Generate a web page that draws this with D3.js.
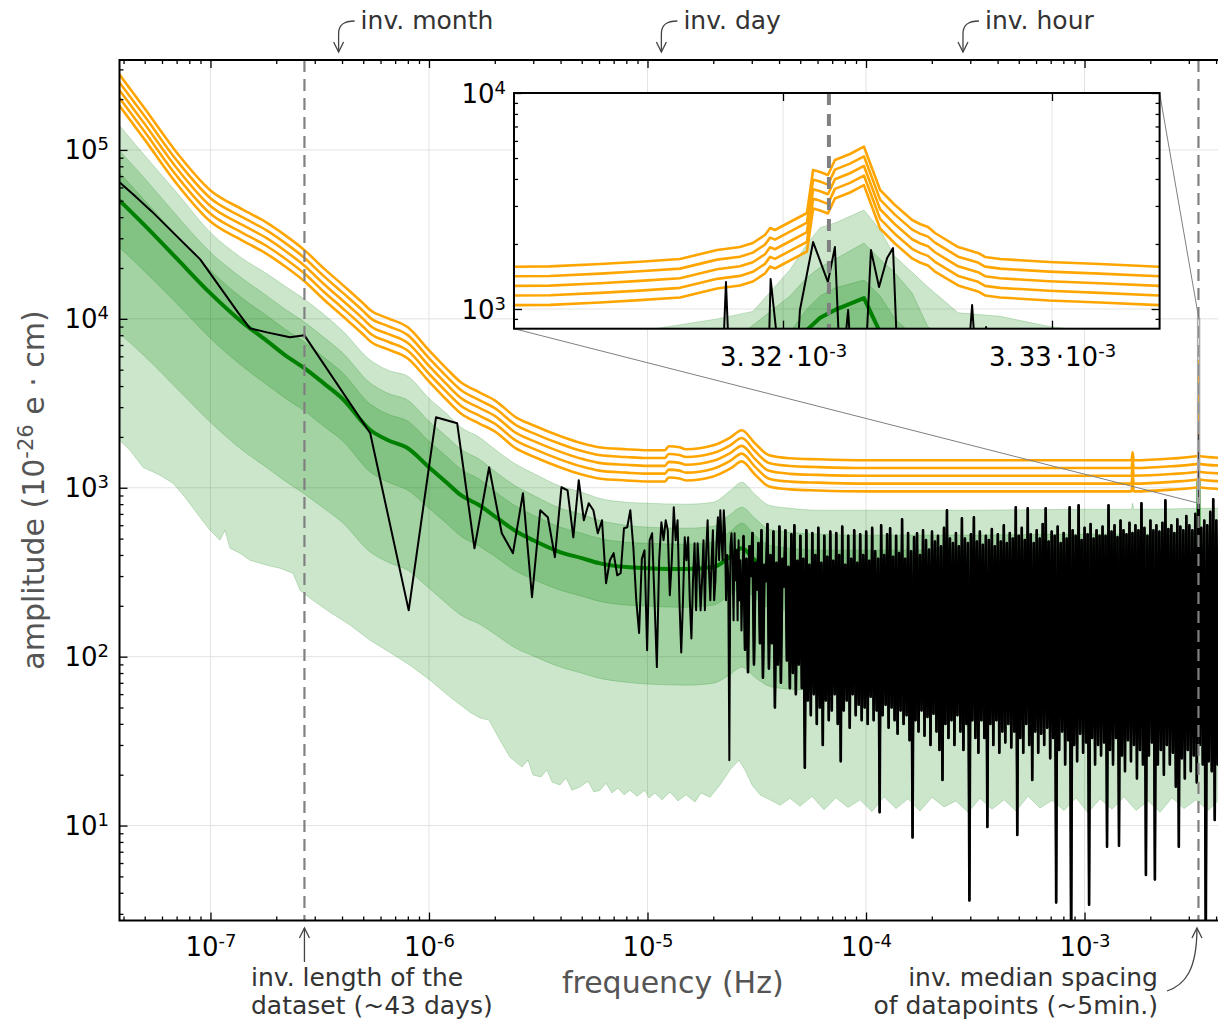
<!DOCTYPE html>
<html>
<head>
<meta charset="utf-8">
<script src="https://cdn.jsdelivr.net/npm/d3@7/dist/d3.min.js"></script>
<style>
html,body{margin:0;padding:0;background:#fff;}
svg{display:block;}
</style>
</head>
<body>
<svg id="chart" width="1218" height="1020"></svg>
<script>
// ================= DATA =================
const DATASET_DAYS = 43;          // inv. length of the dataset
const MEDIAN_SPACING_S = 301.05;  // inv. median spacing of datapoints (~5 min)
const MONTH_DAYS = 30, DAY_S = 86400, HOUR_S = 3600;

const xMajorTicks = [1e-7, 1e-6, 1e-5, 1e-4, 1e-3];
const xTickExp = ["-7", "-6", "-5", "-4", "-3"];
const yMajorTicks = [1e1, 1e2, 1e3, 1e4, 1e5];
const yTickExp = ["1", "2", "3", "4", "5"];
const insetXTicks = [3.32e-3, 3.33e-3];
const insetXTickMant = ["3.", "3."];
const insetXTickFrac = ["32", "33"];
const insetYTicks = [1e3, 1e4];
const insetYTickExp = ["3", "4"];

// ---- orange curves (5 levels) ----
const orangeFreq = [3.83e-8,5e-8,7e-8,1e-7,1.4e-7,1.8e-7,2.2e-7,2.7e-7,3.3e-7,4e-7,
5e-7,5.4e-7,6.5e-7,8e-7,1e-6,1.2e-6,1.4e-6,1.7e-6,2e-6,2.5e-6,
3e-6,4e-6,5e-6,6e-6,8e-6,1e-5,1.2e-5,1.25e-5,1.4e-5,1.5e-5,
2e-5,2.4e-5,2.7e-5,3.1e-5,3.6e-5,4.5e-5,6e-5,1e-4,2e-4,5e-4,
1e-3,1.64e-3,1.66e-3,1.68e-3,2.5e-3,3.3e-3,
3.31004e-3,3.31134e-3,3.31320e-3,3.31468e-3,3.31617e-3,3.31755e-3,3.31840e-3,3.31888e-3,3.31933e-3,3.31952e-3,
3.31970e-3,3.32026e-3,3.32089e-3,3.32112e-3,3.32138e-3,3.32167e-3,3.32193e-3,3.32249e-3,3.32301e-3,3.32361e-3,
3.32416e-3,3.32480e-3,3.32509e-3,3.32539e-3,3.32565e-3,3.32651e-3,3.32725e-3,3.32751e-3,3.32807e-3,3.32989e-3,
3.33178e-3,3.33398e-3,
3.345e-3,4.3e-3];
const orange1 = [279700,176000,96650,57600,44450,37240,31200,25430,19900,16000,
12350,11230,10070,8907,6510,5095,4210,3674,3295,2613,
2343,2017,1834,1736,1690,1667,1667,1760,1736,1690,
1784,1990,2189,1834,1557,1495,1474,1455,1455,1455,
1455,1455,1622,1455,1490,1540,
1570,1575,1616,1656,1704,1876,1936,2021,2201,2371,
2321,2528,2783,4400,4308,4173,4895,5220,5642,3555,
3030,2583,2475,2397,2248,1936,1817,1741,1704,1651,
1616,1570,
1540,1500];
const orange2 = [251500,158300,86900,51800,39970,33490,28060,22870,17900,14390,
11110,10100,9060,8010,5850,4580,3790,3300,2960,2350,
2107,1814,1649,1561,1520,1499,1499,1583,1561,1520,
1604,1790,1969,1649,1400,1344,1326,1308,1308,1308,
1308,1308,1459,1308,1340,1385,
1417,1421,1458,1495,1538,1693,1747,1824,1986,2140,
2095,2282,2512,3971,3888,3766,4418,4711,5092,3208,
2735,2331,2234,2163,2029,1747,1640,1571,1538,1490,
1458,1417,
1385,1349];
const orange3 = [226200,142300,78170,46580,35950,30120,25230,20570,16090,12940,
9990,9080,8140,7200,5260,4120,3400,2970,2665,2113,
1895,1631,1483,1404,1367,1348,1348,1423,1404,1367,
1443,1609,1770,1483,1259,1209,1192,1177,1177,1177,
1177,1177,1312,1177,1205,1245,
1279,1283,1316,1349,1388,1528,1577,1646,1793,1931,
1891,2059,2267,3584,3509,3399,3987,4252,4596,2896,
2468,2104,2016,1952,1831,1577,1480,1418,1388,1345,
1316,1279,
1245,1213];
const orange4 = [203400,128000,70290,41890,32330,27080,22690,18490,14470,11640,
8980,8170,7320,6480,4730,3710,3060,2670,2395,1900,
1704,1467,1334,1263,1229,1212,1212,1280,1263,1229,
1297,1447,1592,1334,1132,1087,1072,1058,1058,1058,
1058,1058,1180,1058,1084,1120,
1154,1158,1188,1217,1253,1379,1423,1486,1618,1743,
1706,1858,2046,3235,3167,3068,3598,3837,4148,2613,
2227,1899,1819,1762,1653,1423,1336,1280,1253,1214,
1188,1154,
1120,1091];
const orange5 = [182900,115100,63210,37670,29070,24360,20410,16630,13020,10460,
8080,7340,6590,5830,4260,3330,2750,2400,2155,1709,
1532,1319,1199,1135,1105,1090,1090,1151,1135,1105,
1167,1301,1432,1199,1018,978,964,952,952,952,
952,952,1061,952,975,1007,
1042,1045,1072,1099,1131,1245,1285,1341,1460,1573,
1540,1677,1846,2919,2858,2769,3248,3463,3743,2359,
2010,1714,1642,1590,1491,1285,1206,1155,1131,1095,
1072,1042,
1007,981];

// ---- green bands (simulated quantiles) ----
const bandFreq = [3.83e-8,5e-8,7e-8,1e-7,1.4e-7,1.8e-7,2.2e-7,2.7e-7,3.3e-7,4e-7,
5.4e-7,6.5e-7,8e-7,1e-6,1.2e-6,1.4e-6,1.7e-6,2e-6,2.5e-6,3e-6,
4e-6,5e-6,6e-6,8e-6,1e-5,1.5e-5,2e-5,2.4e-5,2.7e-5,3.1e-5,
3.6e-5,4.5e-5,6e-5,1e-4,3e-4,1e-3,1.64e-3,1.66e-3,1.68e-3,3.3e-3,
3.31134e-3,3.31468e-3,3.31755e-3,3.31888e-3,3.32026e-3,3.32089e-3,3.32138e-3,3.32193e-3,3.32301e-3,3.32361e-3,
3.32416e-3,3.32480e-3,3.32539e-3,3.32651e-3,3.32807e-3,3.32989e-3,3.33178e-3,
3.345e-3,4.3e-3];
const bandLightUpper = [139600,92790,56040,32500,22800,18590,15570,13040,10630,8550,
5682,4960,4569,3385,2760,2280,1990,1690,1377,1218,
1021,941,867,821,810,799,821,966,1078,915,
788,756,736,736,736,746,746,810,746,756,
760,790,900,975,1520,2000,2380,2500,2870,2320,
1750,1480,1264,960,925,830,780,
756,756];
const bandMidUpper = [99310,67810,40970,24750,17360,13770,11380,9535,7773,6336,
4152,3624,3295,2475,2017,1690,1474,1252,1021,903,
756,697,642,600,584,576,592,697,767,660,
568,545,531,524,524,531,531,553,531,538,
545,560,640,840,1150,1400,1560,1700,2020,1700,
1470,1186,825,700,640,580,550,
538,538];
const bandDarkUpper = [73600,50260,31200,19360,13220,10490,8667,7260,5918,4826,
3119,2722,2475,1884,1536,1287,1123,953,777,688,
584,538,502,476,469,463,476,553,617,524,
457,438,427,427,427,433,433,444,433,438,
440,450,500,600,780,1000,1150,1250,1362,1150,
900,760,650,540,500,460,445,
438,438];
const bandMedian = [50260,35750,22800,14150,9535,7460,6081,5095,4152,3385,
2189,1910,1713,1322,1078,903,788,678,553,489,
415,383,358,339,334,330,339,393,438,372,
325,312,303,303,303,308,308,316,308,312,
315,320,360,430,600,800,910,990,1124,780,
620,540,470,400,360,330,318,
312,312];
const bandDarkLower = [26490,19100,12350,7665,5236,4097,3385,2836,2311,1910,
1235,1078,966,756,617,516,451,393,321,287,
247,228,213,202,199,196,202,234,258,222,
194,186,181,181,181,183,183,188,183,186,
188,190,215,260,340,480,540,600,680,480,
385,325,285,240,215,198,190,
186,186];
const bandMidLower = [8208,6000,3879,2441,1667,1322,1093,915,756,625,
415,362,325,254,207,176,156,136,112,101,
86.7,79.9,74.6,70.6,68.8,67.8,69.7,78.8,86.7,75.6,
66.9,64.2,63.3,62.5,62.5,63.3,63.3,65.1,63.3,64.2,
65,66,75,90,118,168,190,208,235,165,
130,113,99,84,76,69,66,
64.2,64.2];
// light band lower edge (jagged)
const lightLowerFreq = [3.83e-8,4.281e-8,4.911e-8,5.873e-8,6.736e-8,7.643e-8,8.955e-8,9.947e-8,1.105e-7,1.165e-7,
1.228e-7,1.365e-7,1.516e-7,1.814e-7,2.080e-7,2.385e-7,2.515e-7,2.568e-7,2.853e-7,3.523e-7,
4.348e-7,5.370e-7,6.629e-7,8.185e-7,1.011e-6,1.248e-6,1.540e-6,1.712e-6,1.882e-6,2.113e-6,
2.348e-6,2.664e-6,2.838e-6,2.992e-6,3.254e-6,3.467e-6,3.655e-6,3.977e-6,4.236e-6,4.512e-6,
4.909e-6,5.341e-6,5.689e-6,6.061e-6,6.456e-6,6.877e-6,7.328e-6,7.805e-6,8.316e-6,8.953e-6,
9.741e-6,1.016e-5,1.082e-5,1.165e-5,1.268e-5,1.379e-5,1.500e-5,1.650e-5,1.757e-5,1.932e-5,
2.147e-5,2.385e-5,2.623e-5,2.794e-5,3.008e-5,3.272e-5,3.636e-5,4.040e-5,4.489e-5];
const lightLower = [1910,1667,1322,1186,1063,879,669,561,489,561,
438,410,372,348,334,312,265,247,222,183,
154,125,106,89,72.6,57.6,46.9,43.3,42.1,32.0,
25.4,22.2,24.4,19.9,19.4,21.3,18.1,17.4,19.1,16.2,
16.9,18.3,15.8,16.2,17.8,15.6,16.7,15.2,16.2,14.9,
16.2,14.5,15.6,14.2,15.8,14.0,15.2,13.8,15.6,14.7,
17.4,21.3,24.4,21.3,17.4,15.2,14.2,13.2,14.5];
const lightLowerHigh = [13.0,14.9,12.4,14.6,12.8,14.2,12.1,14.8,12.6,14.4,12.2,14.7,12.9,14.0,12.0,14.5,12.5,14.2,
12.2,14.9,12.7,14.1,12.3,14.6,11.9,14.4,12.5,14.8,12.3,14.0,12.0,14.6,12.6,14.2,12.3,14.4];
const lightLowerHighRange = [4.987e-5, 4.17e-3];

// ---- measured amplitude spectrum (black) ----
const blackLowFreq = [3.845e-8,4.487e-8,5.384e-8,6.73e-8,8.973e-8,1.346e-7,1.516e-7,1.814e-7,2.311e-7];
const blackLowAmp  = [64230,53800,43260,32500,22500,10780,8785,8318,7773];
// harmonics k = 1..100 of 1/(dataset length)
const blackHarmAmp = [7988,2101,188,2613,2408,438,1322,538,410,928,
225,736,669,388,1007,966,509,1108,642,810,
736,538,642,272,372,410,303,312,576,584,
736,444,216,138,380,426,109,489,538,216,
86.7,372,625,489,642,561,231,372,767,489,
642,216,106,216,509,372,509,216,128,283,
469,188,469,325,188,283,489,188,426,642,
325,216,372,561,216,283,489,669,372,736,
489,372,736,561,216,400,300,24.4,450,538,
372,164,538,283,426,164,489,216,372,143];
// dense high-frequency part, log-spaced from 2.75e-5 to 4.2e-3 Hz
const blackDenseRange = [2.75e-5, 4.2e-3];
const blackDenseAmp = [
520,110,380,81,450,300,540,90,360,250,470,120,560,75,350,280,610,85,400,120,
550,50,360,90,590,70,380,260,560,95,340,65,530,80,600,60,370,90,520,65,
380,22,560,55,350,45,540,60,400,40,580,50,360,30,520,55,390,42,550,48,
370,60,540,40,400,24,590,48,350,55,520,38,380,60,560,45,360,52,530,42,
400,50,550,40,370,58,580,42,420,48,380,12,600,45,400,52,530,38,576,50,
390,42,520,35,410,48,651,40,380,45,540,32,420,8.5,510,42,538,36,400,48,
560,34,490,44,430,30,550,46,480,36,520,28,450,18.6,580,40,736,33,500,42,
470,30,540,45,450,36,660,28,500,40,470,3.6,530,42,669,33,480,27,550,42,
460,33,520,9.8,490,40,570,30,450,42,530,27,480,36,600,31,470,40,540,29,
500,36,767,8.8,520,33,580,27,490,40,756,30,530,18.6,470,36,560,27,500,35,
610,30,756,38,480,25,550,33,520,3.5,590,28,470,36,540,23,500,32,767,1.8,
560,30,520,24,788,35,490,27,580,31,530,3.4,610,33,500,23,560,30,520,26,
590,31,520,7.5,788,28,550,23,600,33,510,7.6,640,26,560,21,530,32,620,24,
540,30,600,19,560,28,810,23,580,5.1,520,26,640,31,560,4.8,600,23,550,28,
620,20,843,30,570,23,600,27,540,17,650,7.5,590,25,560,19,680,28,600,21,
560,26,700,18,620,30,580,23,640,1.8,600,24,720,21,855,10.8,640,23,660,27];
// fine sampling around the 1/(median spacing) peak (inset)
const blackInsetFreq = [3.31000e-3,3.31171e-3,3.31468e-3,3.31691e-3,3.31777e-3,3.31788e-3,3.31799e-3,3.31915e-3,3.31948e-3,3.31954e-3,
3.31985e-3,3.32026e-3,3.32056e-3,3.32063e-3,3.32112e-3,3.32167e-3,3.32193e-3,3.32208e-3,3.32223e-3,3.32242e-3,
3.32253e-3,3.32309e-3,3.32327e-3,3.32357e-3,3.32387e-3,3.32409e-3,3.32424e-3,3.32546e-3,3.32691e-3,3.32703e-3,
3.32714e-3,3.32747e-3,3.32755e-3,3.32762e-3,3.32993e-3,3.33398e-3];
const blackInsetAmp = [420,450,480,520,600,1333,600,560,700,1377,
600,520,700,989,2042,1333,1937,700,550,989,
600,650,1875,1264,1721,1915,650,560,650,1043,
650,700,825,650,560,500];

// ================= DRAWING =================
const FONT = "DejaVu Sans, Verdana, sans-serif";
const svg = d3.select("#chart").attr("font-family", FONT);
const X0 = 119.5, X1 = 1226, Y0 = 60, Y1 = 920.5;
const x = d3.scaleLog().domain([3.834e-8, 4.44e-3]).range([X0, X1]);
const y = d3.scaleLog().domain([2.741, 3.408e5]).range([Y1, Y0]);

const IX0 = 514, IX1 = 1159.6, IY0 = 93, IY1 = 328.7;
const ix = d3.scaleLinear().domain([3.31e-3, 3.334e-3]).range([IX0, IX1]);
const iy = d3.scaleLog().domain([810.6, 1e4]).range([IY1, IY0]);

const f0 = 1 / (DATASET_DAYS * DAY_S);
const fMed = 1 / MEDIAN_SPACING_S;
const GREEN = "#008000", ORANGE = "#ffa500", GRID = "#e3e3e3";
const SMOOTH = d3.curveMonotoneX;

function logGrid(a, b, n) {
  const la = Math.log10(a), lb = Math.log10(b);
  return d3.range(n).map(i => Math.pow(10, la + (lb - la) * i / (n - 1)));
}

const defs = svg.append("defs");
defs.append("clipPath").attr("id", "clipMain").append("rect")
  .attr("x", X0).attr("y", Y0).attr("width", X1 - X0).attr("height", Y1 - Y0);
defs.append("clipPath").attr("id", "clipInset").append("rect")
  .attr("x", IX0).attr("y", IY0).attr("width", IX1 - IX0).attr("height", IY1 - IY0);

// assemble series
const G = bandFreq.map((f, i) => ({f, lu: bandLightUpper[i], mu: bandMidUpper[i], du: bandDarkUpper[i],
  med: bandMedian[i], dl: bandDarkLower[i], ml: bandMidLower[i]}));
const LL = lightLowerFreq.map((f, i) => ({f, v: lightLower[i]}))
  .concat(logGrid(lightLowerHighRange[0], lightLowerHighRange[1], lightLowerHigh.length).map((f, i) => ({f, v: lightLowerHigh[i]})));
const oranges = [orange1, orange2, orange3, orange4, orange5].map(arr => orangeFreq.map((f, i) => ({f, v: arr[i]})));
const inInsetWin = f => f > 3.309e-3 && f < 3.335e-3;
const blackPts = [];
blackLowFreq.forEach((f, i) => blackPts.push({f, v: blackLowAmp[i]}));
blackHarmAmp.forEach((v, i) => blackPts.push({f: (i + 1) * f0, v}));
logGrid(blackDenseRange[0], blackDenseRange[1], blackDenseAmp.length).forEach((f, i) => {
  if (!inInsetWin(f)) blackPts.push({f, v: blackDenseAmp[i]});
});
blackInsetFreq.forEach((f, i) => blackPts.push({f, v: blackInsetAmp[i]}));
blackPts.sort((a, b) => a.f - b.f);

// ---- grid ----
const gGrid = svg.append("g").attr("stroke", GRID).attr("stroke-width", 1);
xMajorTicks.forEach(v => gGrid.append("line").attr("x1", x(v)).attr("x2", x(v)).attr("y1", Y0).attr("y2", Y1));
yMajorTicks.forEach(v => gGrid.append("line").attr("x1", X0).attr("x2", X1).attr("y1", y(v)).attr("y2", y(v)));

// ---- main plot content ----
const gm = svg.append("g").attr("clip-path", "url(#clipMain)");
function bandStyle(sel) {
  return sel.attr("fill", GREEN).attr("fill-opacity", 0.2)
    .attr("stroke", GREEN).attr("stroke-opacity", 0.2).attr("stroke-width", 1);
}
const upperPath = d3.line().curve(SMOOTH).x(d => x(d.f)).y(d => y(d.lu))(G);
const lowerPath = d3.line().x(d => x(d.f)).y(d => y(d.v))(LL.slice().reverse());
bandStyle(gm.append("path").attr("d", upperPath + "L" + lowerPath.slice(1) + "Z"));
bandStyle(gm.append("path").attr("d", d3.area().curve(SMOOTH).x(d => x(d.f)).y0(d => y(d.ml)).y1(d => y(d.mu))(G)));
bandStyle(gm.append("path").attr("d", d3.area().curve(SMOOTH).x(d => x(d.f)).y0(d => y(d.dl)).y1(d => y(d.du))(G)));
gm.append("path").attr("d", d3.line().curve(SMOOTH).x(d => x(d.f)).y(d => y(d.med))(G))
  .attr("fill", "none").attr("stroke", GREEN).attr("stroke-width", 4).attr("stroke-linejoin", "round");
const lineO = d3.line().curve(SMOOTH).x(d => x(d.f)).y(d => y(d.v));
oranges.forEach(o => gm.append("path").attr("d", lineO(o)).attr("fill", "none")
  .attr("stroke", ORANGE).attr("stroke-width", 2.6).attr("stroke-linejoin", "round"));
const lineB = d3.line().x(d => x(d.f)).y(d => y(d.v));
gm.append("path").attr("d", lineB(blackPts))
  .attr("fill", "none").attr("stroke", "#000").attr("stroke-width", 2).attr("stroke-linejoin", "round");
// the densely sampled high-frequency part merges into a solid mass
gm.append("path").attr("d", lineB(blackPts.filter(d => d.f >= blackDenseRange[0])))
  .attr("fill", "none").attr("stroke", "#000").attr("stroke-width", 2.6).attr("stroke-linejoin", "round");
[f0, fMed].forEach(f => gm.append("line").attr("x1", x(f)).attr("x2", x(f)).attr("y1", Y0).attr("y2", Y1)
  .attr("stroke", "#808080").attr("stroke-width", 2.2).attr("stroke-dasharray", "12,7"));

// ---- spines ----
svg.append("rect").attr("x", X0).attr("y", Y0).attr("width", X1 - X0).attr("height", Y1 - Y0)
  .attr("fill", "none").attr("stroke", "#000").attr("stroke-width", 2);

// ---- axes ----
function cleanAxis(g) {
  g.select(".domain").remove();
  g.selectAll(".tick line").attr("stroke", "#000").attr("stroke-width", 1.3);
  g.attr("font-family", FONT);
}
const xMinor = x.ticks().filter(v => !xMajorTicks.some(m => Math.abs(m - v) / m < 1e-6));
const yMinor = y.ticks().filter(v => !yMajorTicks.some(m => Math.abs(m - v) / m < 1e-6));

const gxb = svg.append("g").attr("transform", `translate(0,${Y1})`)
  .call(d3.axisBottom(x).tickValues(xMajorTicks).tickSizeInner(-8).tickSizeOuter(0).tickFormat(() => "10"));
cleanAxis(gxb);
gxb.attr("font-size", 26);
gxb.selectAll(".tick text").attr("y", 35).attr("dy", null).attr("fill", "#000")
  .each(function (d, i) { d3.select(this).append("tspan").attr("dy", -9).attr("font-size", 18).text(xTickExp[i]); });
cleanAxis(svg.append("g").attr("transform", `translate(0,${Y1})`)
  .call(d3.axisBottom(x).tickValues(xMinor).tickSizeInner(-4).tickSizeOuter(0).tickFormat(() => "")));
cleanAxis(svg.append("g").attr("transform", `translate(0,${Y0})`)
  .call(d3.axisTop(x).tickValues(xMajorTicks).tickSizeInner(-8).tickSizeOuter(0).tickFormat(() => "")));
cleanAxis(svg.append("g").attr("transform", `translate(0,${Y0})`)
  .call(d3.axisTop(x).tickValues(xMinor).tickSizeInner(-4).tickSizeOuter(0).tickFormat(() => "")));

const gyl = svg.append("g").attr("transform", `translate(${X0},0)`)
  .call(d3.axisLeft(y).tickValues(yMajorTicks).tickSizeInner(-8).tickSizeOuter(0).tickFormat(() => "10"));
cleanAxis(gyl);
gyl.attr("font-size", 26);
gyl.selectAll(".tick text").attr("x", -10.5).attr("y", 9).attr("dy", null).attr("fill", "#000")
  .each(function (d, i) { d3.select(this).append("tspan").attr("dy", -9).attr("font-size", 18).text(yTickExp[i]); });
cleanAxis(svg.append("g").attr("transform", `translate(${X0},0)`)
  .call(d3.axisLeft(y).tickValues(yMinor).tickSizeInner(-4).tickSizeOuter(0).tickFormat(() => "")));

// ---- inset indicator & connectors ----
const rx0 = x(3.31e-3), rx1 = x(3.334e-3), ry0 = y(1e4), ry1 = y(810.6);
svg.append("rect").attr("x", rx0 - 0.5).attr("y", ry0).attr("width", Math.max(rx1 - rx0, 1) + 1).attr("height", ry1 - ry0)
  .attr("fill", "none").attr("stroke", "#a8a8a8").attr("stroke-width", 1.4);
svg.append("line").attr("x1", IX1).attr("y1", IY0).attr("x2", rx1).attr("y2", ry0).attr("stroke", "#808080").attr("stroke-width", 1);
svg.append("line").attr("x1", IX0).attr("y1", IY1).attr("x2", rx0).attr("y2", ry1).attr("stroke", "#808080").attr("stroke-width", 1);

// ---- inset ----
const gIn = svg.append("g");
gIn.append("rect").attr("x", IX0).attr("y", IY0).attr("width", IX1 - IX0).attr("height", IY1 - IY0).attr("fill", "#fff");
const gi = gIn.append("g").attr("clip-path", "url(#clipInset)");
insetXTicks.forEach(v => gi.append("line").attr("x1", ix(v)).attr("x2", ix(v)).attr("y1", IY0).attr("y2", IY1).attr("stroke", GRID));
insetYTicks.forEach(v => gi.append("line").attr("x1", IX0).attr("x2", IX1).attr("y1", iy(v)).attr("y2", iy(v)).attr("stroke", GRID));
const win = f => f >= 3.29e-3 && f <= 3.36e-3;
const Gw = G.filter(d => win(d.f));
["lu", "mu", "du"].forEach(k => bandStyle(gi.append("path")
  .attr("d", d3.area().x(d => ix(d.f)).y0(IY1 + 30).y1(d => iy(d[k]))(Gw))));
gi.append("path").attr("d", d3.line().x(d => ix(d.f)).y(d => iy(d.med))(Gw))
  .attr("fill", "none").attr("stroke", GREEN).attr("stroke-width", 4).attr("stroke-linejoin", "round");
oranges.forEach(o => gi.append("path").attr("d", d3.line().x(d => ix(d.f)).y(d => iy(d.v))(o.filter(d => win(d.f))))
  .attr("fill", "none").attr("stroke", ORANGE).attr("stroke-width", 2.6).attr("stroke-linejoin", "round"));
gi.append("path").attr("d", d3.line().x(d => ix(d.f)).y(d => iy(d.v))(blackPts.filter(d => win(d.f))))
  .attr("fill", "none").attr("stroke", "#000").attr("stroke-width", 2).attr("stroke-linejoin", "round");
gi.append("line").attr("x1", ix(fMed)).attr("x2", ix(fMed)).attr("y1", IY0).attr("y2", IY1)
  .attr("stroke", "#808080").attr("stroke-width", 4).attr("stroke-dasharray", "12,9");
gIn.append("rect").attr("x", IX0).attr("y", IY0).attr("width", IX1 - IX0).attr("height", IY1 - IY0)
  .attr("fill", "none").attr("stroke", "#000").attr("stroke-width", 2);

const iyMinor = iy.ticks().filter(v => !insetYTicks.some(m => Math.abs(m - v) / m < 1e-6));
const gil = gIn.append("g").attr("transform", `translate(${IX0},0)`)
  .call(d3.axisLeft(iy).tickValues(insetYTicks).tickSizeInner(-8).tickSizeOuter(0).tickFormat(() => "10"));
cleanAxis(gil);
gil.attr("font-size", 26);
gil.selectAll(".tick text").attr("x", -8).attr("y", 9).attr("dy", null).attr("fill", "#000")
  .each(function (d, i) { d3.select(this).append("tspan").attr("dy", -9).attr("font-size", 18).text(insetYTickExp[i]); });
cleanAxis(gIn.append("g").attr("transform", `translate(${IX0},0)`)
  .call(d3.axisLeft(iy).tickValues(iyMinor).tickSizeInner(-4).tickSizeOuter(0).tickFormat(() => "")));
cleanAxis(gIn.append("g").attr("transform", `translate(${IX1},0)`)
  .call(d3.axisRight(iy).tickValues(insetYTicks).tickSizeInner(-8).tickSizeOuter(0).tickFormat(() => "")));
cleanAxis(gIn.append("g").attr("transform", `translate(${IX1},0)`)
  .call(d3.axisRight(iy).tickValues(iyMinor).tickSizeInner(-4).tickSizeOuter(0).tickFormat(() => "")));
const gib = gIn.append("g").attr("transform", `translate(0,${IY1})`)
  .call(d3.axisBottom(ix).tickValues(insetXTicks).tickSizeInner(-8).tickSizeOuter(0).tickFormat(() => ""));
cleanAxis(gib);
gib.attr("font-size", 26);
gib.selectAll(".tick text").attr("y", 37).attr("dy", null).attr("fill", "#000")
  .each(function (d, i) {
    const t = d3.select(this);
    t.append("tspan").text(insetXTickMant[i]);
    t.append("tspan").attr("dx", 5).text(insetXTickFrac[i]);
    t.append("tspan").attr("dx", 4).text("\u00b7");
    t.append("tspan").attr("dx", 1).text("10");
    t.append("tspan").attr("dy", -9).attr("font-size", 18).text("-3");
  });
cleanAxis(gIn.append("g").attr("transform", `translate(0,${IY0})`)
  .call(d3.axisTop(ix).tickValues(insetXTicks).tickSizeInner(-8).tickSizeOuter(0).tickFormat(() => "")));

// ---- axis labels ----
svg.append("text").attr("x", (X0 + X1) / 2).attr("y", 993).attr("text-anchor", "middle")
  .attr("font-size", 30).attr("fill", "#555").text("frequency (Hz)");
const yl = svg.append("text").attr("transform", "translate(44,490) rotate(-90)").attr("text-anchor", "middle")
  .attr("font-size", 30).attr("fill", "#555");
yl.append("tspan").text("amplitude (10");
yl.append("tspan").attr("dy", -11).attr("font-size", 21).text("-26");
yl.append("tspan").attr("dy", 11).text(" e \u00b7 cm)");

// ---- annotations ----
const ANN = "#333";
const gA = svg.append("g").attr("fill", ANN).attr("font-size", 25);
function arrowHead(g, tx, ty, dir) { // dir: 1 = pointing down, -1 = up
  g.append("path").attr("d", `M${tx - 5},${ty - dir * 10}L${tx},${ty}L${tx + 5},${ty - dir * 10}`)
    .attr("fill", "none").attr("stroke", "#444").attr("stroke-width", 1.3);
}
[[1 / (MONTH_DAYS * DAY_S), "inv. month"], [1 / DAY_S, "inv. day"], [1 / HOUR_S, "inv. hour"]].forEach(([f, label]) => {
  const tx = x(f);
  gA.append("path").attr("d", `M${tx + 16},21 C${tx + 6},21 ${tx},24 ${tx},34 L${tx},52`)
    .attr("fill", "none").attr("stroke", "#444").attr("stroke-width", 1.3);
  arrowHead(gA, tx, 52, 1);
  gA.append("text").attr("x", tx + 22).attr("y", 29).text(label);
});
const xl = x(f0);
gA.append("path").attr("d", `M${xl},962 L${xl},928`).attr("fill", "none").attr("stroke", "#444").attr("stroke-width", 1.3);
arrowHead(gA, xl, 928, -1);
gA.append("text").attr("x", 251).attr("y", 986).text("inv. length of the");
gA.append("text").attr("x", 251).attr("y", 1014).text("dataset (~43 days)");
const xm = x(fMed) - 1.5;
gA.append("path").attr("d", `M1167,991 C1185,985 ${xm},970 ${xm},928`).attr("fill", "none").attr("stroke", "#444").attr("stroke-width", 1.3);
arrowHead(gA, xm, 928, -1);
gA.append("text").attr("x", 1158).attr("y", 986).attr("text-anchor", "end").text("inv. median spacing");
gA.append("text").attr("x", 1158).attr("y", 1014).attr("text-anchor", "end").text("of datapoints (~5min.)");
</script>
</body>
</html>
